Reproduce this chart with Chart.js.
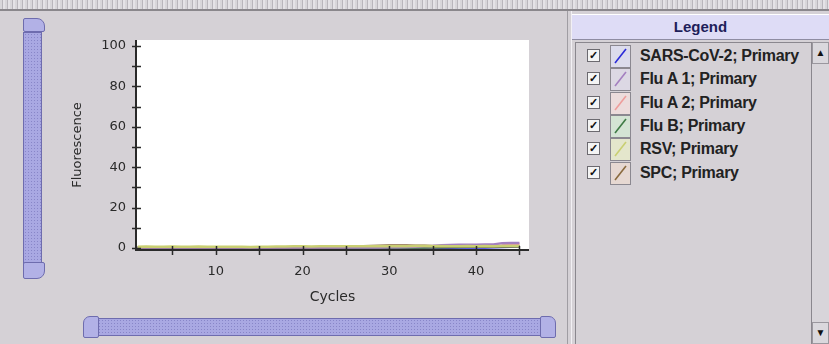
<!DOCTYPE html>
<html>
<head>
<meta charset="utf-8">
<script src="https://cdn.jsdelivr.net/npm/chart.js@4/dist/chart.umd.min.js"></script>
<style>
  body { margin: 0; width: 829px; height: 344px; overflow: hidden; background: #d5d1d6; font-family: "Liberation Sans", Arial, sans-serif; }
  #wrap { position: absolute; left: 0; top: 0; width: 829px; height: 344px; }
  #topstrip { position: absolute; left: 0; top: 0; width: 829px; height: 9px; border-bottom: 2px solid #8a878c;
    background: repeating-linear-gradient(90deg, #d8d6da 0 2px, #b9b6bc 2px 3px, #e4e2e6 3px 5px); }
  #chartBox { position: absolute; left: 0; top: 0; width: 560px; height: 344px; }
  .vslider { position: absolute; left: 23px; top: 18px; width: 19px; height: 261px; }
  .track { background-color: #a9a8e2; border: 1px solid #6e6cae; box-sizing: border-box;
    background-image: radial-gradient(#8886c8 0.7px, transparent 0.9px); background-size: 3px 3px; }
  .cap { position: absolute; background: #b2b1e6; border: 1px solid #6e6cae; box-sizing: border-box; }
  #divider { position: absolute; left: 567px; top: 11px; width: 3px; height: 333px; border-left: 1px solid #a09da3; border-right: 1px solid #f2f0f4; }
  #legend { position: absolute; left: 572px; top: 14px; width: 257px; height: 330px; }
  #lhead { position: absolute; left: 0; top: 0; width: 257px; height: 26px; background: #dedcf6; border-top: 1px solid #fff;
    border-bottom: 1px solid #8e8ca2; box-sizing: border-box; text-align: center; font-weight: bold; font-size: 15px; line-height: 24px; color: #1e1e5a; }
  #list { position: absolute; left: 3px; top: 28px; width: 236px; height: 302px; border-left: 1px solid #8a878e; border-top: 1px solid #8a878e; }
  .row { position: absolute; left: 0; height: 23px; width: 236px; }
  .chk { position: absolute; left: 11px; top: 4px; width: 13px; height: 13px; background: #f4f4f4; border: 1px solid #6c6a70;
    box-sizing: border-box; font-size: 11px; line-height: 11px; text-align: center; color: #111; font-weight: bold; }
  .ico { position: absolute; left: 34px; top: 0px; width: 21px; height: 23px; border: 1px solid #8b8890; box-sizing: border-box; }
  .lbl { position: absolute; left: 64px; top: 2px; font-weight: bold; font-size: 16px; color: #222; white-space: nowrap; letter-spacing: -0.3px; }
  #scroll { position: absolute; left: 811px; top: 42px; width: 18px; height: 302px; background: #d8d5da; border-left: 1px solid #8a878e; box-sizing: border-box; }
  .sbtn { position: absolute; left: 0; width: 17px; height: 22px; background: #dad8dd; border: 1px solid #9a979e; box-sizing: border-box;
    font-size: 10px; text-align: center; line-height: 20px; color: #111; }
</style>
</head>
<body>
<div id="wrap">
  <div id="topstrip"></div>
  <div id="chartBox"><canvas id="chart" width="560" height="344"></canvas></div>

  <!-- vertical slider -->
  <div class="vslider">
    <div class="track" style="position:absolute;left:0;top:14px;width:19px;height:232px;"></div>
    <div class="cap" style="left:0;top:0;width:22px;height:14px;border-radius:2px 8px 2px 2px;"></div>
    <div class="cap" style="left:0;top:244px;width:22px;height:17px;border-radius:2px 2px 8px 2px;"></div>
  </div>

  <!-- horizontal slider -->
  <div class="track" style="position:absolute;left:97px;top:318px;width:446px;height:18px;"></div>
  <div class="cap" style="left:83px;top:316px;width:16px;height:22px;border-radius:7px 2px 2px 2px;"></div>
  <div class="cap" style="left:540px;top:316px;width:16px;height:22px;border-radius:2px 7px 2px 2px;"></div>

  <div id="divider"></div>

  <div id="legend">
    <div id="lhead">Legend</div>
    <div id="list"></div>
  </div>
  <div id="scroll">
    <div class="sbtn" style="top:0;">&#9650;</div>
    <div class="sbtn" style="bottom:0;">&#9660;</div>
  </div>
</div>
<script>
// cycle numbers (x axis)
const cycles = [1,2,3,4,5,6,7,8,9,10,11,12,13,14,15,16,17,18,19,20,21,22,23,24,25,26,27,28,29,30,31,32,33,34,35,36,37,38,39,40,41,42,43,44,45];

// series names
const seriesNames = ['SARS-CoV-2; Primary', 'Flu A 1; Primary', 'Flu A 2; Primary', 'Flu B; Primary', 'RSV; Primary', 'SPC; Primary'];
const seriesColors = ['#2b2bd8', '#a47fc0', '#ee9d9b', '#3f7b45', '#c9cf72', '#8a6a3e'];
const iconTints = ['#dcdcec', '#dcd8e4', '#ecdcdc', '#d4e4d4', '#e4e6cc', '#e6d8d2'];
const drawOrder = [6, 2, 5, 4, 1, 3];   // lower = drawn on top

// fluorescence values per cycle
const sarsValues = [0.1,0.1,0.1,0.1,0.1,0.1,0.1,0.1,0.1,0.1,0.1,0.1,0.1,0.1,0.1,0.1,0.1,0.1,0.1,0.1,0.1,0.1,0.1,0.1,0.1,0.1,0.1,0.1,0.1,0.1,0.1,0.1,0.1,0.1,0.1,0.1,0.1,0.2,0.2,0.3,0.3,0.4,0.5,0.6,0.8];
const fluA1Values = [0.3,0.3,0.3,0.3,0.3,0.3,0.3,0.3,0.3,0.3,0.3,0.3,0.3,0.3,0.3,0.3,0.3,0.3,0.3,0.3,0.3,0.3,0.3,0.3,0.3,0.3,0.3,0.3,0.3,0.4,0.4,0.5,0.6,0.8,1.0,1.3,1.5,1.6,1.6,1.6,1.7,1.7,2.4,2.5,2.5];
const fluA2Values = [0.4,0.4,0.4,0.4,0.4,0.4,0.4,0.4,0.4,0.4,0.4,0.4,0.4,0.4,0.4,0.4,0.4,0.4,0.4,0.4,0.4,0.4,0.4,0.4,0.4,0.4,0.4,0.4,0.4,0.4,0.4,0.4,0.4,0.4,0.4,0.5,0.5,0.6,0.6,0.7,0.8,0.9,1.2,1.9,2.0];
const fluBValues = [0.2,0.2,0.2,0.2,0.2,0.2,0.2,0.2,0.2,0.2,0.2,0.2,0.2,0.2,0.2,0.2,0.2,0.2,0.2,0.2,0.2,0.2,0.2,0.2,0.2,0.2,0.2,0.2,0.2,0.2,0.2,0.3,0.3,0.3,0.4,0.4,0.5,0.5,0.6,0.6,0.6,0.7,0.7,0.8,0.8];
const rsvValues = [0.6,0.7,0.6,0.6,0.7,0.6,0.6,0.7,0.6,0.6,0.6,0.6,0.6,0.5,0.6,0.6,0.7,0.7,0.8,0.8,0.7,0.8,0.8,0.9,0.8,0.8,0.9,0.8,0.9,0.9,0.9,0.9,1.0,1.0,0.9,1.0,0.9,0.9,1.0,0.9,1.0,0.9,1.0,1.0,1.0];
const spcValues = [0.3,0.3,0.3,0.3,0.3,0.3,0.3,0.3,0.3,0.3,0.3,0.3,0.3,0.3,0.3,0.3,0.3,0.3,0.3,0.3,0.3,0.3,0.4,0.4,0.5,0.6,0.8,1.0,1.1,1.2,1.2,1.2,1.1,1.1,1.0,0.9,0.9,0.8,0.8,0.8,0.8,0.8,0.8,0.9,0.9];

const seriesValues = [sarsValues, fluA1Values, fluA2Values, fluBValues, rsvValues, spcValues];

// axis ticks
const xTicks = [10, 20, 30, 40];
const xMinorTicks = [5, 15, 25, 35, 45];
const yTicks = [0, 20, 40, 60, 80, 100];
const yMinorTicks = [10, 30, 50, 70, 90];

// legend rows (HTML)
const list = document.getElementById('list');
seriesNames.forEach(function (name, i) {
    const row = document.createElement('div');
    row.className = 'row';
    row.style.top = (2 + i * 23.3) + 'px';
    row.innerHTML =
        '<div class="chk">&#10003;</div>' +
        '<div class="ico" style="background:' + iconTints[i] + '">' +
        '<svg width="19" height="21"><line x1="4" y1="17" x2="15" y2="3" stroke="' + seriesColors[i] + '" stroke-width="1.6"/></svg></div>' +
        '<div class="lbl">' + name + '</div>';
    list.appendChild(row);
});

// white plot area + crossing tick marks
const plotDecor = {
    id: 'plotDecor',
    beforeDatasetsDraw: function (chart) {
        const a = chart.chartArea;
        const ctx = chart.ctx;
        ctx.save();
        ctx.fillStyle = '#ffffff';
        ctx.fillRect(a.left, a.top, a.right - a.left, a.bottom - a.top);
        ctx.restore();
    },
    afterDatasetsDraw: function (chart) {
        const a = chart.chartArea;
        const ctx = chart.ctx;
        const xs = chart.scales.x, ys = chart.scales.y;
        ctx.save();
        ctx.strokeStyle = '#2a2a2a';
        ctx.lineWidth = 2;
        ctx.beginPath();
        ctx.moveTo(a.left, a.top);
        ctx.lineTo(a.left, a.bottom);
        ctx.lineTo(a.right, a.bottom);
        ctx.stroke();
        ctx.lineWidth = 1.5;
        ctx.beginPath();
        xTicks.concat(xMinorTicks).forEach(function (v) {
            const px = Math.round(xs.getPixelForValue(v)) + 0.5;
            ctx.moveTo(px, a.bottom - 4);
            ctx.lineTo(px, a.bottom + 5);
        });
        yTicks.concat(yMinorTicks).forEach(function (v) {
            const py = Math.round(ys.getPixelForValue(v)) + 0.5;
            ctx.moveTo(a.left - 4, py);
            ctx.lineTo(a.left + 5, py);
        });
        ctx.stroke();
        ctx.restore();
    }
};

const datasets = seriesNames.map(function (name, i) {
    return {
        label: name,
        data: cycles.map(function (c, j) { return { x: c, y: seriesValues[i][j] }; }),
        borderColor: seriesColors[i],
        borderWidth: 2.5,
        pointRadius: 0,
        tension: 0,
        order: drawOrder[i]
    };
});

const axisFont = { family: 'DejaVu Sans', size: 13 };

new Chart(document.getElementById('chart').getContext('2d'), {
    type: 'line',
    data: { datasets: datasets },
    plugins: [plotDecor],
    options: {
        responsive: false,
        animation: false,
        events: [],
        layout: { padding: { left: 0, right: 31, top: 40, bottom: 0 } },
        plugins: { legend: { display: false }, tooltip: { enabled: false } },
        scales: {
            x: {
                type: 'linear',
                min: 0.8,
                max: 46.1,
                afterFit: function (s) { s.height = 94; },
                afterBuildTicks: function (s) { s.ticks = xTicks.map(function (v) { return { value: v }; }); },
                ticks: { font: axisFont, color: '#2a2a2a', padding: 6, maxRotation: 0 },
                grid: { display: false },
                border: { display: false },
                title: { display: true, text: 'Cycles', font: { family: 'DejaVu Sans', size: 14 }, color: '#2a2a2a', padding: { top: 0, bottom: 38 } }
            },
            y: {
                min: -1,
                max: 103,
                afterFit: function (s) { s.width = 136; },
                afterBuildTicks: function (s) { s.ticks = yTicks.map(function (v) { return { value: v }; }); },
                ticks: { font: axisFont, color: '#2a2a2a', padding: 2 },
                grid: { display: false },
                border: { display: false },
                title: { display: true, text: 'Fluorescence', font: { family: 'DejaVu Sans', size: 13 }, color: '#2a2a2a', padding: { top: 70, bottom: 0 } }
            }
        }
    }
});
</script>
</body>
</html>
